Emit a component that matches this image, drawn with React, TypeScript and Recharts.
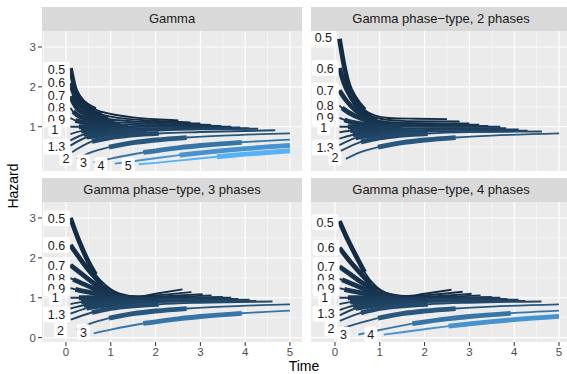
import React from 'react';
import { ComposedChart, Line, Scatter, XAxis, YAxis, CartesianGrid } from 'recharts';

type Pt = [number, number];
interface Curve {
  shape: number;
  pts: Pt[];
  thick: [number, number];
}
interface HazLabel {
  t: number;
  h: number;
  text: string;
}

// integer shapes are the same Erlang curve in every panel that holds them
const erlang2: Pt[] = [[0.242, 0.195], [0.5, 0.333], [0.961, 0.49], [1.5, 0.6], [2, 0.667], [2.693, 0.729], [3.5, 0.778], [5, 0.833]];
const erlang3: Pt[] = [[0.619, 0.106], [1, 0.2], [1.727, 0.354], [2.5, 0.472], [3, 0.529], [3.92, 0.61], [5, 0.676]];
const erlang4: Pt[] = [[1.09, 0.074], [1.5, 0.134], [2, 0.21], [2.535, 0.287], [3, 0.346], [4, 0.451], [5, 0.53]];
const erlang5: Pt[] = [[1.623, 0.059], [2, 0.095], [2.5, 0.15], [3.37, 0.247], [4, 0.311], [5, 0.398]];
const flat1: Pt[] = [[0.1, 1], [0.288, 1], [1.386, 1], [3.69, 1]];

const gammaCurves: Curve[] = [
  { shape: 0.5, pts: [[0.1, 2.47], [0.2, 1.96], [0.3, 1.74], [0.5, 1.525], [0.66, 1.43], [1, 1.32], [1.5, 1.234], [2, 1.186], [2.51, 1.16]], thick: [0.1, 0.66] },
  { shape: 0.6, pts: [[0.1, 2.09], [0.25, 1.64], [0.5, 1.41], [0.8, 1.3], [1, 1.253], [2, 1.145], [2.78, 1.11]], thick: [0.1, 0.8] },
  { shape: 0.7, pts: [[0.1, 1.76], [0.25, 1.46], [0.5, 1.3], [0.94, 1.195], [2, 1.108], [3, 1.08]], thick: [0.1, 0.94] },
  { shape: 0.8, pts: [[0.1, 1.47], [0.16, 1.38], [0.25, 1.294], [0.5, 1.195], [1.08, 1.115], [2, 1.073], [3.24, 1.045]], thick: [0.16, 1.08] },
  { shape: 0.9, pts: [[0.1, 1.218], [0.21, 1.155], [0.5, 1.095], [1, 1.06], [1.22, 1.053], [2, 1.037], [3.47, 1.022]], thick: [0.21, 1.22] },
  { shape: 1, pts: flat1, thick: [0.288, 1.386] },
  { shape: 1.1, pts: [[0.1, 0.814], [0.34, 0.89], [1, 0.941], [1.52, 0.955], [2, 0.964], [3.89, 0.98]], thick: [0.34, 1.52] },
  { shape: 1.2, pts: [[0.1, 0.657], [0.4, 0.805], [1, 0.885], [1.66, 0.925], [3, 0.955], [4.09, 0.965]], thick: [0.4, 1.66] },
  { shape: 1.3, pts: [[0.1, 0.527], [0.46, 0.736], [1, 0.83], [1.8, 0.895], [3, 0.935], [4.29, 0.95]], thick: [0.46, 1.8] },
  { shape: 1.5, pts: [[0.108, 0.341], [0.58, 0.631], [1, 0.725], [2.07, 0.832], [3, 0.867], [4.67, 0.91]], thick: [0.58, 2.07] },
  { shape: 2, pts: erlang2, thick: [0.961, 2.693] },
  { shape: 3, pts: erlang3, thick: [1.727, 3.92] },
  { shape: 4, pts: erlang4, thick: [2.535, 5] },
  { shape: 5, pts: erlang5, thick: [3.37, 5] },
];

const phase2Curves: Curve[] = [
  { shape: 0.5, pts: [[0.1, 3.2], [0.2, 2.55], [0.3, 2.07], [0.45, 1.72], [0.66, 1.42], [0.9, 1.28], [1.2, 1.22], [1.8, 1.2], [2.5, 1.19]], thick: [0.1, 0.66] },
  { shape: 0.6, pts: [[0.1, 2.47], [0.2, 2.1], [0.35, 1.75], [0.55, 1.45], [0.8, 1.27], [1.1, 1.18], [1.6, 1.14], [2.78, 1.13]], thick: [0.1, 0.8] },
  { shape: 0.7, pts: [[0.1, 1.91], [0.25, 1.66], [0.45, 1.42], [0.7, 1.24], [0.94, 1.15], [1.4, 1.1], [3, 1.08]], thick: [0.1, 0.94] },
  { shape: 0.8, pts: [[0.1, 1.53], [0.16, 1.47], [0.3, 1.36], [0.6, 1.2], [0.9, 1.12], [1.08, 1.09], [1.6, 1.06], [3.22, 1.05]], thick: [0.16, 1.08] },
  { shape: 0.9, pts: [[0.1, 1.22], [0.21, 1.17], [0.4, 1.11], [0.7, 1.06], [1.22, 1.03], [2, 1.02], [3.42, 1.02]], thick: [0.21, 1.22] },
  { shape: 1, pts: flat1, thick: [0.288, 1.386] },
  { shape: 1.1, pts: [[0.1, 0.86], [0.34, 0.9], [0.7, 0.93], [1.52, 0.95], [2.5, 0.96], [3.82, 0.96]], thick: [0.34, 1.52] },
  { shape: 1.2, pts: [[0.1, 0.7], [0.4, 0.8], [0.8, 0.86], [1.66, 0.91], [2.6, 0.925], [4.1, 0.93]], thick: [0.4, 1.66] },
  { shape: 1.3, pts: [[0.1, 0.54], [0.46, 0.72], [1, 0.82], [1.8, 0.875], [3, 0.895], [4.3, 0.9]], thick: [0.46, 1.8] },
  { shape: 1.5, pts: [[0.108, 0.38], [0.58, 0.62], [1, 0.72], [2.07, 0.83], [3, 0.865], [4.62, 0.88]], thick: [0.58, 2.07] },
  { shape: 2, pts: erlang2, thick: [0.961, 2.693] },
];

const phase3Curves: Curve[] = [
  { shape: 0.5, pts: [[0.1, 3.0], [0.3, 2.4], [0.5, 1.9], [0.66, 1.58], [0.9, 1.3], [1.2, 1.1], [1.6, 1.03], [2, 1.1], [2.6, 1.21]], thick: [0.1, 0.66] },
  { shape: 0.6, pts: [[0.1, 2.32], [0.3, 2.0], [0.5, 1.7], [0.8, 1.33], [1.1, 1.12], [1.5, 1.03], [2, 1.06], [2.8, 1.14]], thick: [0.1, 0.8] },
  { shape: 0.7, pts: [[0.1, 1.82], [0.3, 1.64], [0.6, 1.38], [0.94, 1.15], [1.3, 1.04], [1.8, 1.02], [2.4, 1.05], [3.05, 1.09]], thick: [0.1, 0.94] },
  { shape: 0.8, pts: [[0.1, 1.49], [0.16, 1.46], [0.4, 1.34], [0.7, 1.2], [1.08, 1.08], [1.6, 1.01], [2.4, 1.02], [3.25, 1.06]], thick: [0.16, 1.08] },
  { shape: 0.9, pts: [[0.1, 1.24], [0.21, 1.21], [0.5, 1.14], [0.9, 1.07], [1.22, 1.03], [1.8, 1.0], [2.6, 1.0], [3.5, 1.02]], thick: [0.21, 1.22] },
  { shape: 1, pts: flat1, thick: [0.288, 1.386] },
  { shape: 1.1, pts: [[0.1, 0.84], [0.34, 0.89], [0.7, 0.93], [1.52, 0.96], [2.5, 0.97], [3.85, 0.97]], thick: [0.34, 1.52] },
  { shape: 1.2, pts: [[0.1, 0.73], [0.4, 0.81], [1, 0.88], [1.66, 0.92], [2.6, 0.94], [4.1, 0.95]], thick: [0.4, 1.66] },
  { shape: 1.3, pts: [[0.1, 0.6], [0.46, 0.74], [1, 0.83], [1.8, 0.89], [3, 0.91], [4.25, 0.92]], thick: [0.46, 1.8] },
  { shape: 1.5, pts: [[0.108, 0.45], [0.58, 0.63], [1, 0.73], [2.07, 0.835], [3, 0.875], [4.61, 0.905]], thick: [0.58, 2.07] },
  { shape: 2, pts: erlang2, thick: [0.961, 2.693] },
  { shape: 3, pts: erlang3, thick: [1.727, 3.92] },
];

const phase4Curves: Curve[] = [
  { shape: 0.5, pts: [[0.1, 2.92], [0.3, 2.42], [0.52, 1.94], [0.66, 1.64], [0.9, 1.3], [1.2, 1.1], [1.6, 1.04], [2, 1.1], [2.6, 1.2]], thick: [0.1, 0.66] },
  { shape: 0.6, pts: [[0.1, 2.25], [0.3, 1.96], [0.5, 1.7], [0.8, 1.34], [1.1, 1.13], [1.5, 1.04], [2, 1.06], [2.85, 1.15]], thick: [0.1, 0.8] },
  { shape: 0.7, pts: [[0.1, 1.78], [0.3, 1.62], [0.6, 1.38], [0.94, 1.16], [1.3, 1.05], [1.8, 1.02], [2.4, 1.05], [3.05, 1.1]], thick: [0.1, 0.94] },
  { shape: 0.8, pts: [[0.1, 1.47], [0.16, 1.45], [0.4, 1.34], [0.7, 1.2], [1.08, 1.08], [1.6, 1.01], [2.4, 1.02], [3.25, 1.06]], thick: [0.16, 1.08] },
  { shape: 0.9, pts: [[0.1, 1.24], [0.21, 1.21], [0.5, 1.14], [0.9, 1.07], [1.22, 1.03], [1.8, 1.0], [2.6, 1.0], [3.5, 1.02]], thick: [0.21, 1.22] },
  { shape: 1, pts: flat1, thick: [0.288, 1.386] },
  { shape: 1.1, pts: [[0.1, 0.84], [0.34, 0.89], [0.7, 0.93], [1.52, 0.96], [2.5, 0.97], [3.85, 0.97]], thick: [0.34, 1.52] },
  { shape: 1.2, pts: [[0.1, 0.69], [0.4, 0.8], [1, 0.88], [1.66, 0.92], [2.6, 0.94], [4.1, 0.95]], thick: [0.4, 1.66] },
  { shape: 1.3, pts: [[0.1, 0.56], [0.46, 0.73], [1, 0.83], [1.8, 0.89], [3, 0.91], [4.25, 0.92]], thick: [0.46, 1.8] },
  { shape: 1.5, pts: [[0.108, 0.42], [0.58, 0.62], [1, 0.73], [2.07, 0.835], [3, 0.875], [4.61, 0.905]], thick: [0.58, 2.07] },
  { shape: 2, pts: [[0.2, 0.25], [0.5, 0.35], [0.961, 0.49], [1.5, 0.6], [2, 0.667], [2.693, 0.729], [3.5, 0.778], [5, 0.833]], thick: [0.961, 2.693] },
  { shape: 3, pts: [[0.52, 0.075], [1, 0.19], [1.727, 0.35], [2.5, 0.47], [3, 0.529], [3.92, 0.61], [5, 0.676]], thick: [1.727, 3.92] },
  { shape: 4, pts: erlang4, thick: [2.535, 5] },
];

const gammaLabels: HazLabel[] = [
  { t: -0.21, h: 2.43, text: '0.5' }, { t: -0.21, h: 2.1, text: '0.6' }, { t: -0.21, h: 1.78, text: '0.7' },
  { t: -0.21, h: 1.47, text: '0.8' }, { t: -0.21, h: 1.19, text: '0.9' }, { t: -0.25, h: 0.94, text: '1' },
  { t: -0.21, h: 0.5, text: '1.3' }, { t: 0, h: 0.21, text: '2' }, { t: 0.39, h: 0.1, text: '3' },
  { t: 0.78, h: 0.04, text: '4' }, { t: 1.39, h: 0.02, text: '5' },
];
const phase2Labels: HazLabel[] = [
  { t: -0.26, h: 3.23, text: '0.5' }, { t: -0.22, h: 2.47, text: '0.6' }, { t: -0.22, h: 1.91, text: '0.7' },
  { t: -0.22, h: 1.53, text: '0.8' }, { t: -0.22, h: 1.22, text: '0.9' }, { t: -0.25, h: 0.98, text: '1' },
  { t: -0.22, h: 0.48, text: '1.3' }, { t: 0, h: 0.23, text: '2' },
];
const phase3Labels: HazLabel[] = [
  { t: -0.21, h: 2.99, text: '0.5' }, { t: -0.21, h: 2.32, text: '0.6' }, { t: -0.21, h: 1.82, text: '0.7' },
  { t: -0.21, h: 1.49, text: '0.8' }, { t: -0.21, h: 1.24, text: '0.9' }, { t: -0.24, h: 1.01, text: '1' },
  { t: -0.21, h: 0.58, text: '1.3' }, { t: -0.12, h: 0.18, text: '2' }, { t: 0.39, h: 0.14, text: '3' },
];
const phase4Labels: HazLabel[] = [
  { t: -0.22, h: 2.89, text: '0.5' }, { t: -0.2, h: 2.25, text: '0.6' }, { t: -0.2, h: 1.78, text: '0.7' },
  { t: -0.2, h: 1.47, text: '0.8' }, { t: -0.2, h: 1.24, text: '0.9' }, { t: -0.23, h: 1.01, text: '1' },
  { t: -0.2, h: 0.6, text: '1.3' }, { t: -0.09, h: 0.22, text: '2' }, { t: 0.19, h: 0.08, text: '3' },
  { t: 0.8, h: 0.08, text: '4' },
];

const TIME_TICKS = [0, 1, 2, 3, 4, 5];
const HAZARD_TICKS = [0, 1, 2, 3];
const TIME_MINOR = [-0.5, 0.5, 1.5, 2.5, 3.5, 4.5];
const HAZARD_MINOR = [0.5, 1.5, 2.5];

const FONT = '"Liberation Sans", Arial, Helvetica, sans-serif';
const PW = 260; // panel width
const PH = 140; // panel height
const STRIP = 24;

// ggplot's default continuous colour scale, #132B43 -> #56B1F7 over shape 0.5..5
const shapeColor = (a: number) => {
  const lo = [19, 43, 67];
  const hi = [86, 177, 247];
  const p = (a - 0.5) / 4.5;
  const c = lo.map((v, i) => Math.round(v + (hi[i] - v) * p));
  return `rgb(${c[0]},${c[1]},${c[2]})`;
};

const toRows = (pts: Pt[]) => pts.map(([t, h]) => ({ t, h }));

const LabelBox = (props: any) => {
  const { cx, cy, payload } = props;
  if (cx == null || cy == null) return null;
  const w = payload.text.length * 7 + 6;
  const hgt = 16;
  return (
    <g>
      <rect x={cx - w / 2} y={cy - hgt / 2} width={w} height={hgt} rx={3} ry={3} fill="#ffffff" fillOpacity={0.92} />
      <text x={cx} y={cy + 4.5} textAnchor="middle" fontSize={12.5} fontFamily={FONT} fill="#1a1a1a">
        {payload.text}
      </text>
    </g>
  );
};

interface PanelProps {
  title: string;
  curves: Curve[];
  labels: HazLabel[];
  left: number;
  top: number;
  showX: boolean;
  showY: boolean;
}

const Panel: React.FC<PanelProps> = ({ title, curves, labels, left, top, showX, showY }) => {
  const yW = showY ? 42 : 0;
  const xH = showX ? 24 : 0;
  return (
    <>
      <div
        style={{
          position: 'absolute', left: left + yW, top: top - STRIP, width: PW, height: STRIP,
          background: '#d9d9d9', color: '#1a1a1a', fontSize: 13, lineHeight: `${STRIP}px`,
          textAlign: 'center', fontFamily: FONT, whiteSpace: 'nowrap',
        }}
      >
        {title}
      </div>
      <div style={{ position: 'absolute', left: left + yW, top, width: PW, height: PH, background: '#ebebeb' }} />
      <div style={{ position: 'absolute', left, top }}>
        <ComposedChart width={yW + PW} height={PH + xH} margin={{ top: 0, right: 0, bottom: 0, left: 0 }}>
          <CartesianGrid stroke="#ffffff" strokeWidth={0.55} horizontalValues={HAZARD_MINOR} verticalValues={TIME_MINOR} />
          <CartesianGrid stroke="#ffffff" strokeWidth={1.1} horizontalValues={HAZARD_TICKS} verticalValues={TIME_TICKS} />
          <XAxis
            type="number"
            dataKey="t"
            domain={[-0.535, 5.268]}
            allowDataOverflow
            ticks={TIME_TICKS}
            hide={!showX}
            height={xH}
            axisLine={false}
            tickLine={{ stroke: '#333333' }}
            tickSize={4}
            tick={{ fill: '#4d4d4d', fontSize: 11.5, fontFamily: FONT }}
          />
          <YAxis
            type="number"
            dataKey="h"
            domain={[-0.11, 3.4]}
            allowDataOverflow
            ticks={HAZARD_TICKS}
            hide={!showY}
            width={yW}
            axisLine={false}
            tickLine={{ stroke: '#333333' }}
            tickSize={4}
            tick={{ fill: '#4d4d4d', fontSize: 11.5, fontFamily: FONT }}
          />
          {curves.map((c) => (
            <Line
              key={`thin-${c.shape}`}
              data={toRows(c.pts)}
              dataKey="h"
              type="monotone"
              stroke={shapeColor(c.shape)}
              strokeWidth={1.9}
              strokeLinecap="butt"
              dot={false}
              activeDot={false}
              isAnimationActive={false}
            />
          ))}
          {curves.map((c) => (
            <Line
              key={`thick-${c.shape}`}
              data={toRows(c.pts.filter(([t]) => t >= c.thick[0] && t <= c.thick[1]))}
              dataKey="h"
              type="monotone"
              stroke={shapeColor(c.shape)}
              strokeWidth={4.8}
              strokeLinecap="butt"
              dot={false}
              activeDot={false}
              isAnimationActive={false}
            />
          ))}
          <Scatter data={labels} dataKey="h" shape={LabelBox} isAnimationActive={false} />
        </ComposedChart>
      </div>
    </>
  );
};

export default function App() {
  return (
    <div
      style={{
        position: 'absolute', left: 0, top: 0, width: 567, height: 374, overflow: 'hidden',
        background: '#ffffff', fontFamily: FONT,
      }}
    >
      <Panel title="Gamma" curves={gammaCurves} labels={gammaLabels} left={0} top={30.5} showX={false} showY />
      <Panel title="Gamma phase−type, 2 phases" curves={phase2Curves} labels={phase2Labels} left={311} top={30.5} showX={false} showY={false} />
      <Panel title="Gamma phase−type, 3 phases" curves={phase3Curves} labels={phase3Labels} left={0} top={202} showX showY />
      <Panel title="Gamma phase−type, 4 phases" curves={phase4Curves} labels={phase4Labels} left={311} top={202} showX showY={false} />
      <div style={{ position: 'absolute', left: 254, top: 358, width: 100, textAlign: 'center', fontSize: 14, color: '#000' }}>
        Time
      </div>
      <div
        style={{
          position: 'absolute', left: -37, top: 176, width: 100, height: 20, lineHeight: '20px',
          textAlign: 'center', fontSize: 14, color: '#000', transform: 'rotate(-90deg)',
        }}
      >
        Hazard
      </div>
    </div>
  );
}
